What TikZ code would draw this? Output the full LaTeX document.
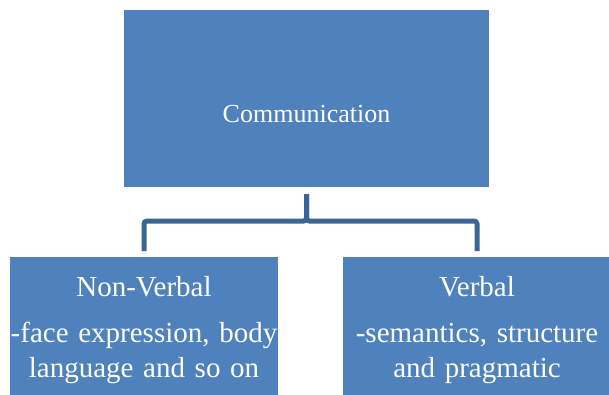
\documentclass[tikz,border=0pt]{standalone}
\usepackage{fontspec}
\setmainfont{Liberation Serif}
\usepackage{tikz}
\usetikzlibrary{positioning}

\definecolor{boxblue}{HTML}{4F81BD}
\definecolor{lineblue}{HTML}{3C6597}

\begin{document}
\begin{tikzpicture}[x=1pt,y=-1pt,
    box/.style={rectangle,fill=boxblue,text=white,inner xsep=0pt},
    top box/.style={box,minimum width=365pt,minimum height=177pt,inner ysep=0pt,
        text height=113pt,text depth=64pt,font=\fontsize{26}{31}\selectfont},
    low box/.style={box,anchor=north,text width=268pt,align=center,inner ysep=19pt,
        font=\fontsize{29}{35}\selectfont},
    conn/.style={draw=lineblue,line width=5pt,rounded corners=3pt}]
    \useasboundingbox (0,0) rectangle (609,395);
    \clip (0,0) rectangle (609,395);

    \node[top box] (com) at (306.5,98.5) {Communication};
    \node[low box] (nonverbal) at (144,257) {Non-Verbal\\[11pt]-face expression, body\\language and so on\\[30pt]};
    \node[low box] (verbal) at (477,257) {Verbal\\[11pt]-semantics, structure\\and pragmatic\\[30pt]};

    \draw[conn] ([yshift=-7pt]com.south) |- ([yshift=36pt]nonverbal.north) -- ([yshift=6pt]nonverbal.north);
    \draw[conn] ([yshift=-7pt]com.south) |- ([yshift=36pt]verbal.north) -- ([yshift=6pt]verbal.north);
\end{tikzpicture}
\end{document}
